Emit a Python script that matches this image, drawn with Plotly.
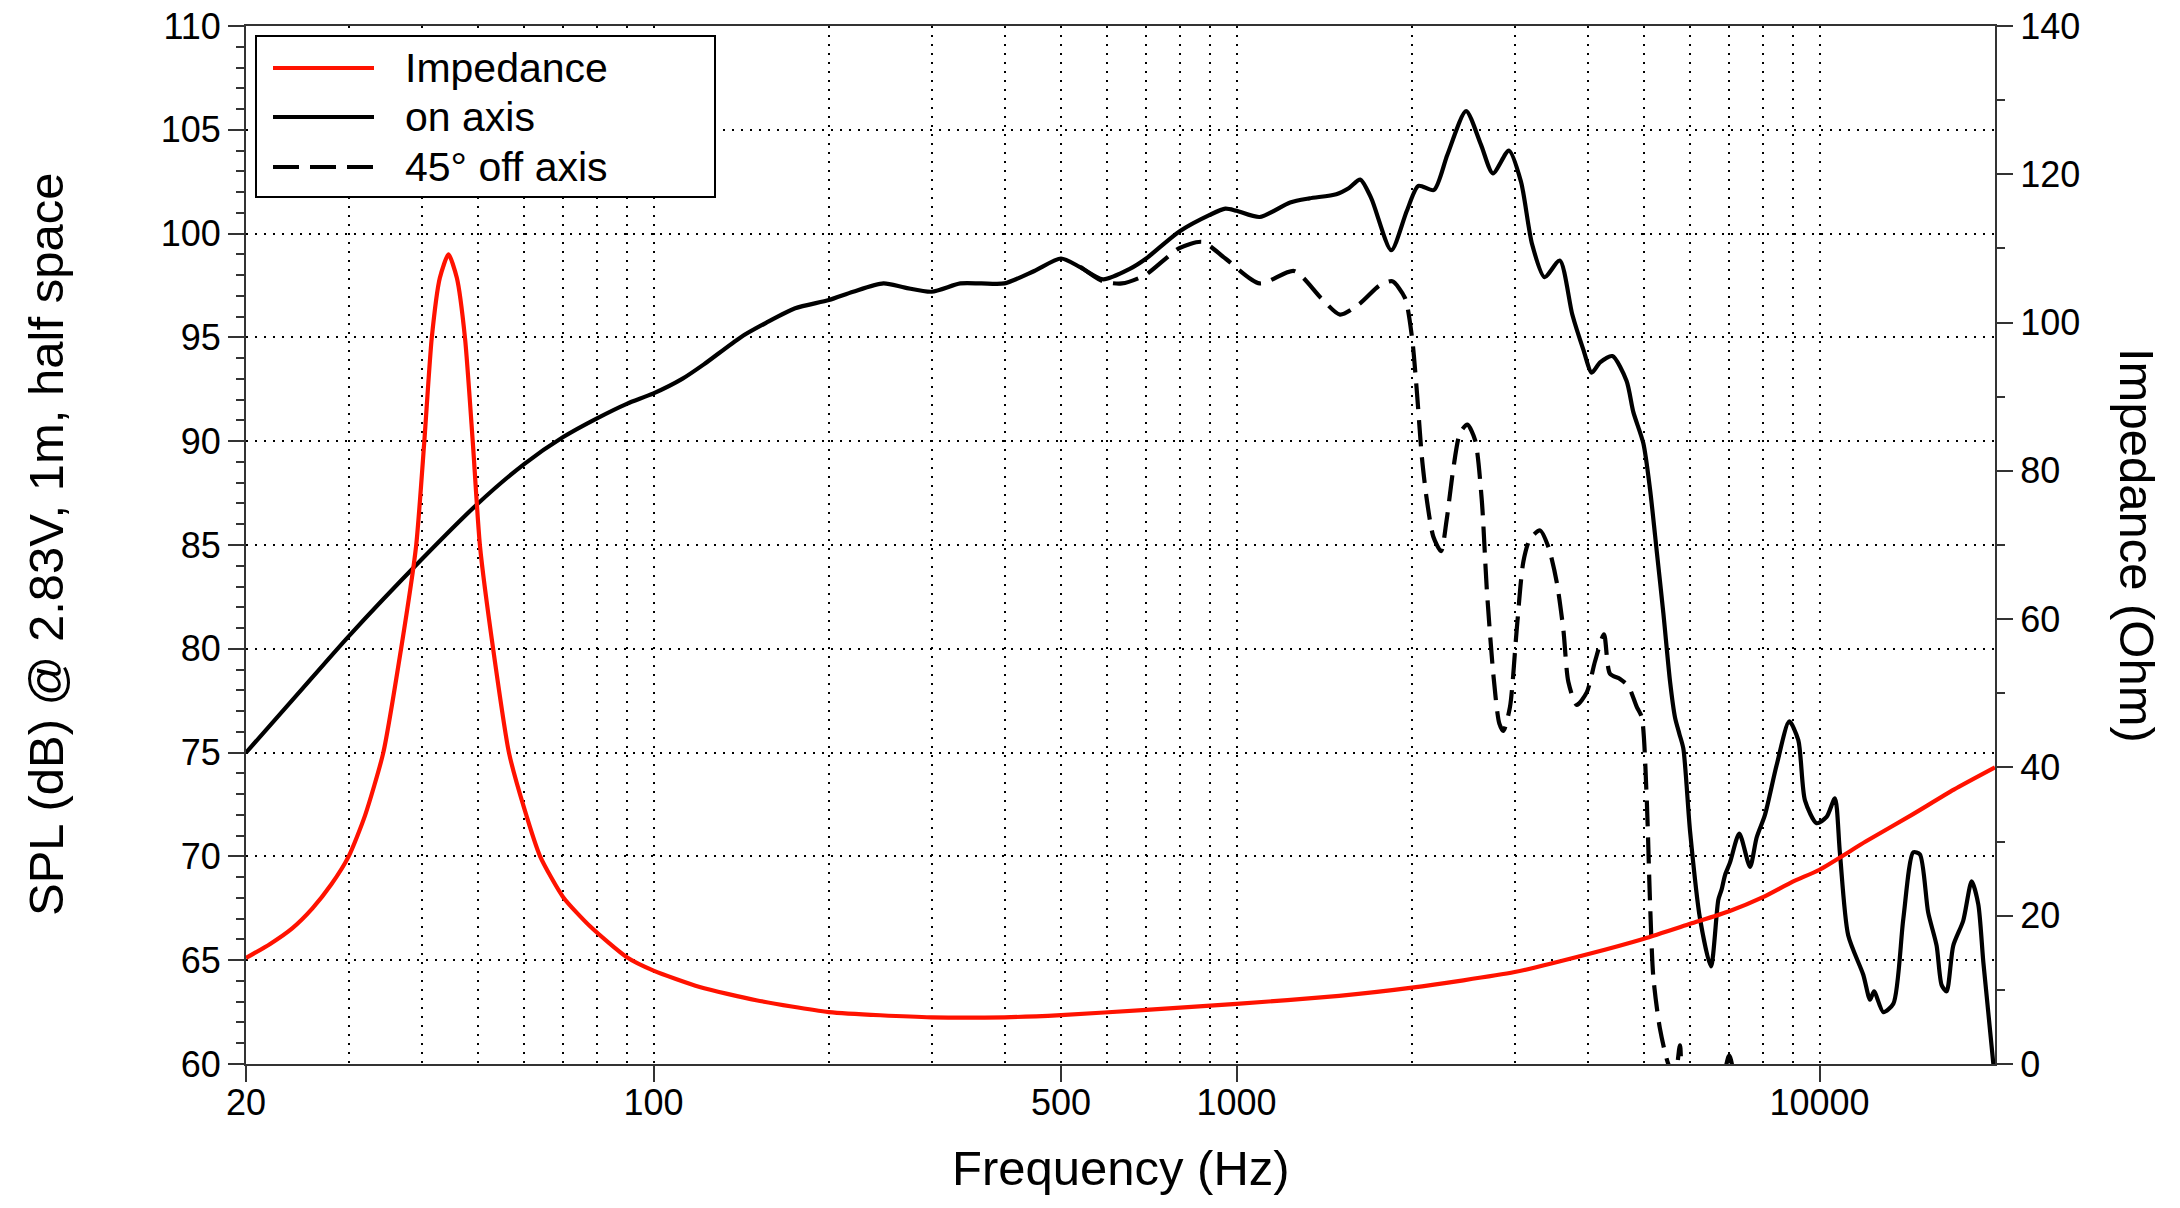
import math
import plotly.graph_objects as go

# ---------------- data ----------------
imp_freq = [20, 22, 24, 26, 28, 30, 32, 34.4, 36.9, 39.15, 40.45, 41.65, 43, 44.5,
            46, 47.5, 48.97, 50.4, 53.1, 56.5, 60, 63.9, 70, 78, 90, 100, 120,
            150, 200, 300, 400, 500, 700, 1000, 1500, 2000, 3000, 4000, 5000,
            6000, 7000, 8000, 9000, 10000, 12000, 14400, 17000, 20000]
imp_ohm = [14.3, 16.2, 18.3, 21.0, 24.2, 28.0, 33.5, 42.0, 56.0, 69.8, 84.0, 97.9,
           106.0, 109.2, 106.0, 97.9, 84.0, 69.8, 55.9, 42.0, 34.5, 28.0, 22.5,
           18.5, 14.4, 12.6, 10.4, 8.6, 7.0, 6.3, 6.3, 6.6, 7.3, 8.1, 9.2, 10.3,
           12.4, 14.8, 16.9, 18.9, 20.6, 22.5, 24.6, 26.2, 30.0, 33.6, 37.0, 40.0]

on_freq = [20, 24.5, 30, 40, 50, 60, 70, 80, 90, 100, 112, 122, 141, 156, 175,
           200, 220, 248, 270, 300, 336, 365, 400, 450, 500, 538, 590, 656, 700,
           798, 900, 957, 1000, 1096, 1236, 1334, 1483, 1560, 1630, 1703, 1843,
           1960, 2051, 2181, 2300, 2476, 2625, 2753, 2933, 3076, 3213, 3376,
           3585, 3767, 3936, 4067, 4204, 4413, 4668, 4794, 4987, 5120, 5258,
           5398, 5543, 5651, 5750, 5840, 5998, 6238, 6513, 6705, 6793, 6886,
           7021, 7285, 7600, 7800, 8062, 8443, 8874, 9197, 9442, 9885, 10285,
           10627, 10837, 11200, 11886, 12208, 12404, 12865, 13386, 13925, 14485,
           14865, 15360, 15880, 16200, 16520, 16960, 17640, 18240, 18720, 19100,
           19870, 20000]
on_db = [75.0, 77.8, 80.6, 84.3, 87.0, 88.9, 90.2, 91.1, 91.8, 92.3, 93.0, 93.7,
         95.0, 95.7, 96.4, 96.8, 97.2, 97.6, 97.4, 97.2, 97.6, 97.6, 97.6, 98.2,
         98.8, 98.4, 97.8, 98.3, 98.8, 100.1, 100.9, 101.2, 101.1, 100.8, 101.5,
         101.7, 101.9, 102.2, 102.6, 101.7, 99.2, 101.1, 102.3, 102.1, 103.8,
         105.9, 104.3, 102.9, 104.0, 102.5, 99.5, 97.9, 98.7, 96.1, 94.4, 93.3,
         93.8, 94.1, 92.9, 91.4, 89.9, 87.7, 84.7, 81.7, 78.4, 76.7, 75.9, 75.2,
         71.2, 67.0, 64.7, 67.9, 68.4, 69.1, 69.7, 71.1, 69.5, 70.9, 72.0, 74.4,
         76.5, 75.6, 72.7, 71.6, 71.9, 72.8, 70.2, 66.2, 64.3, 63.1, 63.5, 62.5,
         62.9, 67.0, 70.2, 70.1, 67.3, 65.7, 63.8, 63.5, 65.7, 66.9, 68.8, 67.7,
         64.9, 60.0, 59.0]

off_freq = [540, 590, 636, 697, 798, 874, 957, 1096, 1255, 1396, 1505, 1623,
            1760, 1850, 1945, 2000, 2040, 2080, 2120, 2176, 2243, 2293, 2355,
            2418, 2489, 2566, 2634, 2687, 2759, 2824, 2869, 2945, 3024, 3105,
            3188, 3317, 3428, 3543, 3637, 3709, 3834, 3988, 4121, 4269, 4371,
            4548, 4700, 4859, 4956, 5052, 5119, 5187, 5325, 5503, 5650, 5763,
            5850, 6400, 6750, 7000, 7250, 8000]
off_db = [98.4, 97.7, 97.6, 98.0, 99.3, 99.6, 98.8, 97.6, 98.2, 96.9, 96.1, 96.6,
          97.5, 97.7, 96.9, 95.0, 92.3, 89.2, 87.2, 85.4, 84.7, 86.2, 88.7, 90.4,
          90.8, 90.05, 87.2, 82.9, 78.7, 76.4, 76.05, 77.2, 80.9, 84.2, 85.3,
          85.7, 84.9, 83.2, 80.9, 78.4, 77.3, 77.9, 79.4, 80.7, 78.8, 78.55,
          78.2, 77.2, 76.7, 72.9, 67.9, 64.2, 61.7, 60.0, 59.4, 60.9, 59.0,
          57.5, 58.6, 60.4, 58.5, 55.0]

x_tickvals = [20, 100, 500, 1000, 10000]
x_ticktext = ["20", "100", "500", "1000", "10000"]
x_minor_grid = [30, 40, 50, 60, 70, 80, 90, 200, 300, 400, 600, 700, 800, 900,
                2000, 3000, 4000, 5000, 6000, 7000, 8000, 9000]

legend_names = ["Impedance", "on axis", "45\u00b0 off axis"]

# ---------------- layout geometry ----------------
W, H = 2180, 1208
L, R, T, B = 246, 1995, 26, 1064
FONT = "Liberation Sans, Arial, Helvetica, sans-serif"


def px(x):
    return (x - L) / (R - L)


def py(y):
    return (B - y) / (B - T)


GRID = dict(gridcolor="#000000", gridwidth=2, griddash="2px,7px")
AXC = "#333333"
LW = 4.2

fig = go.Figure()
fig.add_trace(go.Scatter(x=imp_freq, y=imp_ohm, yaxis="y2", mode="lines",
                         name=legend_names[0],
                         line=dict(color="#ff1200", width=LW, shape="spline",
                                   smoothing=0.6)))
fig.add_trace(go.Scatter(x=on_freq, y=on_db, mode="lines", name=legend_names[1],
                         line=dict(color="#000000", width=LW, shape="spline",
                                   smoothing=0.7)))
fig.add_trace(go.Scatter(x=off_freq, y=off_db, mode="lines", name=legend_names[2],
                         line=dict(color="#000000", width=LW, dash="26px,11px",
                                   shape="spline", smoothing=0.7)))

fig.update_layout(
    width=W, height=H,
    margin=dict(l=L, r=W - R, t=T, b=H - B, autoexpand=False),
    paper_bgcolor="white", plot_bgcolor="white",
    showlegend=False,
    font=dict(family=FONT, size=36, color="#000000"),
    xaxis=dict(type="log", range=[math.log10(20), math.log10(20000)],
               tickvals=x_tickvals, ticktext=x_ticktext, automargin=False,
               ticks="outside", ticklen=16, tickwidth=2, tickcolor=AXC,
               ticklabelstandoff=-10,
               showline=True, linecolor=AXC, linewidth=2, mirror=True,
               showgrid=True, **GRID,
               minor=dict(tickvals=x_minor_grid, ticks="", showgrid=True, **GRID),
               tickfont=dict(size=36), zeroline=False),
    yaxis=dict(range=[60, 110], dtick=5, tick0=60, automargin=False,
               ticks="outside", ticklen=16, tickwidth=2, tickcolor=AXC,
               showline=True, linecolor=AXC, linewidth=2,
               showgrid=True, **GRID,
               minor=dict(dtick=1, ticks="outside", ticklen=8, tickwidth=2,
                          tickcolor=AXC, showgrid=False),
               tickfont=dict(size=36), zeroline=False),
    yaxis2=dict(range=[0, 140], dtick=20, tick0=0, overlaying="y", side="right",
                automargin=False,
                ticks="outside", ticklen=16, tickwidth=2, tickcolor=AXC,
                showline=True, linecolor=AXC, linewidth=2, showgrid=False,
                minor=dict(dtick=10, ticks="outside", ticklen=8, tickwidth=2,
                           tickcolor=AXC, showgrid=False),
                tickfont=dict(size=36), zeroline=False),
)

# axis titles
fig.add_annotation(text="Frequency (Hz)", xref="paper", yref="paper",
                   x=0.5, y=py(1168), xanchor="center", yanchor="middle",
                   showarrow=False, font=dict(size=49))
fig.add_annotation(text="SPL (dB) @ 2.83V, 1m, half space", xref="paper",
                   yref="paper", x=px(46), y=0.5, xanchor="center",
                   yanchor="middle", textangle=-90, showarrow=False,
                   font=dict(size=49))
fig.add_annotation(text="Impedance (Ohm)", xref="paper", yref="paper",
                   x=px(2137), y=0.5, xanchor="center", yanchor="middle",
                   textangle=90, showarrow=False, font=dict(size=49))

# custom legend (box, line samples, labels)
fig.add_shape(type="rect", xref="paper", yref="paper", x0=px(256), x1=px(715),
              y0=py(197), y1=py(36), line=dict(color="#000000", width=2),
              fillcolor="white", layer="above")
leg_y = [68, 117, 167]
leg_styles = [dict(color="#ff1200", width=LW),
              dict(color="#000000", width=LW),
              dict(color="#000000", width=LW, dash="26px,11px")]
for yy, st, name in zip(leg_y, leg_styles, legend_names):
    fig.add_shape(type="line", xref="paper", yref="paper", x0=px(273), x1=px(374),
                  y0=py(yy), y1=py(yy), line=st, layer="above")
    fig.add_annotation(text=name, xref="paper", yref="paper", x=px(403), y=py(yy),
                       xanchor="left", yanchor="middle", showarrow=False,
                       font=dict(size=41))

fig.write_html(
    "out.html",
    config={"displayModeBar": False},
    post_script="document.body.style.margin='0';"
                "document.body.style.padding='0';"
                "document.body.style.overflow='hidden';",
)
